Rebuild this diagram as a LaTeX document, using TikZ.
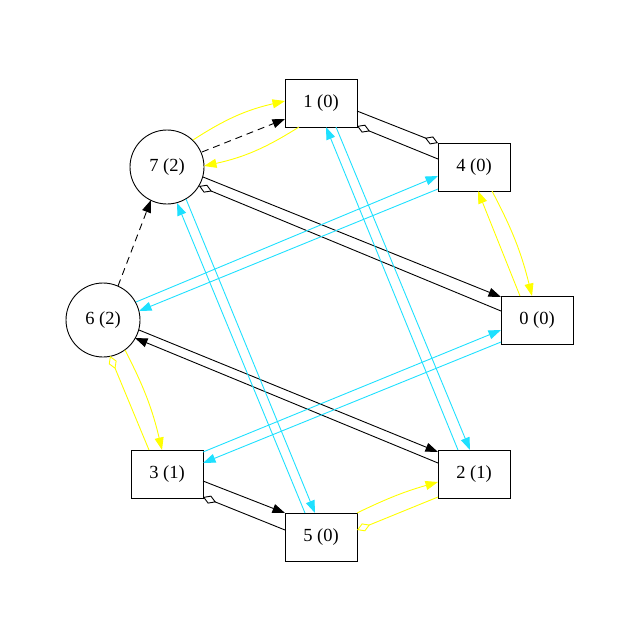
\documentclass[tikz,border=0pt]{standalone}
\usepackage{fontspec}
\setmainfont{Liberation Serif}
\usetikzlibrary{arrows.meta}
\definecolor{linkcyan}{RGB}{30,224,255}
\definecolor{linkyellow}{RGB}{255,255,0}
\begin{document}
\begin{tikzpicture}[x=1pt,y=-1pt,
  label font/.style={font=\fontsize{18.5}{22}\selectfont},
  box/.style={draw, line width=0.9pt, minimum width=72pt, minimum height=48pt, inner sep=0pt, label font},
  ring/.style={draw, circle, line width=0.9pt, minimum size=74pt, inner sep=0pt, label font},
  link/.style={line width=0.9pt},
  blk/.style={link, black},
  ylw/.style={link, linkyellow},
  cyn/.style={link, linkcyan},
  dsh/.style={link, black, dash pattern=on 7pt off 5pt},
  tri/.style={-{Triangle[length=12.5pt,width=9pt]}},
  dia/.style={-{Diamond[open,length=14pt,width=8.5pt]}}
]
\useasboundingbox (0,0) rectangle (640,640);

% nodes
\node[box]  (n1) at (321,103) {1 (0)};
\node[box]  (n4) at (474,167) {4 (0)};
\node[box]  (n0) at (537,320) {0 (0)};
\node[box]  (n2) at (474,474) {2 (1)};
\node[box]  (n5) at (321,537) {5 (0)};
\node[box]  (n3) at (167,474) {3 (1)};
\node[ring] (n6) at (103,320) {6 (2)};
\node[ring] (n7) at (167,167) {7 (2)};

% black links
\draw[blk,dia] ([shift={(36,8)}]n1.center) -- ([shift={(-36,-24)}]n4.center);
\draw[blk,dia] ([shift={(-36,-8)}]n4.center) -- ([shift={(36,23)}]n1.center);
\draw[blk,tri] ([shift={(36,10)}]n7.center) -- ([shift={(-36,-23)}]n0.center);
\draw[blk,dia] ([shift={(-36,-9)}]n0.center) -- ([shift={(32,19)}]n7.center);
\draw[blk,tri] ([shift={(36,10)}]n6.center) -- ([shift={(-36,-22)}]n2.center);
\draw[blk,tri] ([shift={(-36,-11)}]n2.center) -- ([shift={(32,18)}]n6.center);
\draw[blk,tri] ([shift={(36,7)}]n3.center) -- ([shift={(-36,-24)}]n5.center);
\draw[blk,dia] ([shift={(-36,-7)}]n5.center) -- ([shift={(36,23)}]n3.center);

% dashed links
\draw[dsh,tri] ([shift={(35,-15)}]n7.center) -- ([shift={(-36,16)}]n1.center);
\draw[dsh,tri] ([shift={(15,-34)}]n6.center) -- ([shift={(-16,33)}]n7.center);

% yellow links
\draw[ylw,tri] ([shift={(26,-27)}]n7.center) to[bend left=10] ([shift={(-36,-2)}]n1.center);
\draw[ylw,tri] ([shift={(-22,24)}]n1.center) to[bend left=10] ([shift={(37,-1)}]n7.center);
\draw[ylw,tri] ([shift={(22,30)}]n6.center) to[bend left=7] ([shift={(-5,-24)}]n3.center);
\draw[ylw,dia] ([shift={(-18,-24)}]n3.center) -- ([shift={(7,36)}]n6.center);
\draw[ylw,tri] ([shift={(18,24)}]n4.center) to[bend left=7] ([shift={(-5,-24)}]n0.center);
\draw[ylw,tri] ([shift={(-17,-24)}]n0.center) -- ([shift={(4,24)}]n4.center);
\draw[ylw,tri] ([shift={(36,-24)}]n5.center) to[bend left=5] ([shift={(-36,8)}]n2.center);
\draw[ylw,dia] ([shift={(-36,23)}]n2.center) -- ([shift={(36,-7)}]n5.center);

% cyan links
\draw[cyn,tri] ([shift={(33,-18)}]n6.center) -- ([shift={(-36,9)}]n4.center);
\draw[cyn,tri] ([shift={(-36,22)}]n4.center) -- ([shift={(36,-9)}]n6.center);
\draw[cyn,tri] ([shift={(36,-22)}]n3.center) -- ([shift={(-36,10)}]n0.center);
\draw[cyn,tri] ([shift={(-36,22)}]n0.center) -- ([shift={(36,-11)}]n3.center);
\draw[cyn,tri] ([shift={(-16,-24)}]n2.center) -- ([shift={(5,24)}]n1.center);
\draw[cyn,tri] ([shift={(15,24)}]n1.center) -- ([shift={(-4,-24)}]n2.center);
\draw[cyn,tri] ([shift={(-16,-24)}]n5.center) -- ([shift={(10,36)}]n7.center);
\draw[cyn,tri] ([shift={(19,32)}]n7.center) -- ([shift={(-6,-24)}]n5.center);
\end{tikzpicture}
\end{document}
